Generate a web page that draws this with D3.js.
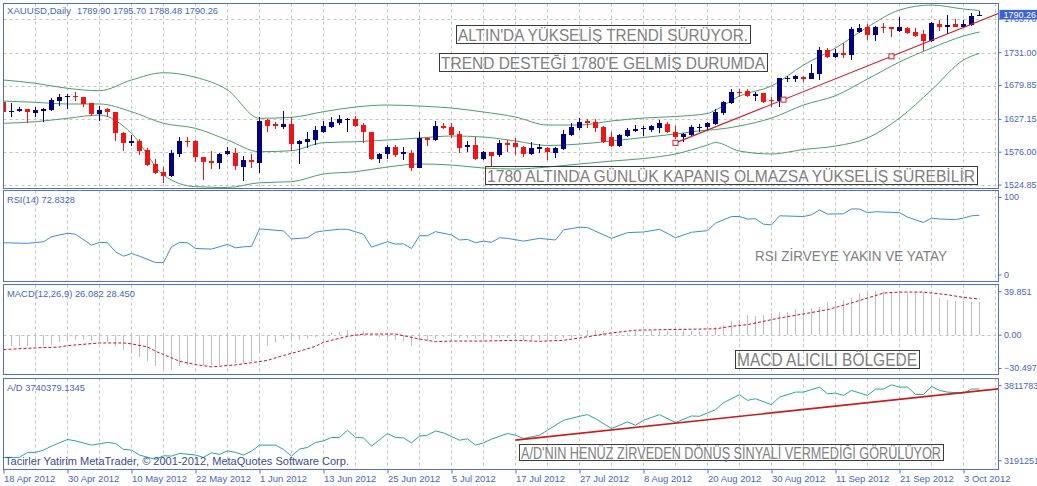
<!DOCTYPE html>
<html><head><meta charset="utf-8">
<script src="https://cdn.jsdelivr.net/npm/d3@7"></script>
<style>body{margin:0;background:#fff;}svg{display:block;font-family:"Liberation Sans",Arial,sans-serif;}</style>
</head><body>
<svg id="chart" width="1037" height="486"></svg>
<script>
// ---------------- DATA ----------------
const dateLabels=["18 Apr 2012","30 Apr 2012","10 May 2012","22 May 2012","1 Jun 2012","13 Jun 2012","25 Jun 2012","5 Jul 2012","17 Jul 2012","27 Jul 2012","8 Aug 2012","20 Aug 2012","30 Aug 2012","11 Sep 2012","21 Sep 2012","3 Oct 2012"];
const priceTicks=[1524.85,1576.00,1627.15,1679.85,1731.00,1783.70];
const lastPrice=1790.26;
const opens=[1654.6,1640.3,1639.7,1642.8,1637.5,1640.6,1641.7,1656.2,1662.0,1664.0,1661.5,1652.1,1635.5,1642.8,1638.1,1606.3,1589.8,1593.4,1579.4,1558.0,1545.1,1539.3,1573.2,1593.4,1593.9,1568.0,1562.7,1558.7,1573.2,1575.2,1553.4,1563.8,1559.6,1626.1,1619.4,1615.7,1619.9,1588.3,1592.3,1595.0,1607.9,1615.7,1621.9,1626.1,1627.7,1618.3,1606.9,1565.4,1573.2,1583.6,1573.2,1575.2,1551.8,1597.6,1595.0,1617.2,1615.2,1604.3,1584.5,1586.7,1565.4,1576.3,1571.6,1590.8,1589.8,1584.5,1573.2,1580.5,1582.0,1575.2,1580.5,1602.8,1613.2,1624.6,1622.5,1614.8,1599.2,1585.6,1601.2,1609.5,1611.6,1610.5,1613.2,1619.9,1607.9,1599.2,1602.8,1613.2,1614.8,1619.4,1636.6,1653.1,1670.2,1671.8,1663.0,1667.7,1657.3,1655.7,1690.0,1689.5,1693.6,1690.0,1697.8,1735.2,1723.8,1731.0,1727.4,1763.7,1770.6,1758.6,1771.5,1770.6,1765.3,1769.0,1762.8,1759.7,1749.7,1775.7,1770.6,1775.2,1771.5,1774.1,1789.90];
const highs=[1657.3,1653.1,1646.9,1643.3,1646.9,1644.8,1659.9,1666.6,1666.2,1670.2,1662.4,1653.1,1647.9,1644.4,1639.1,1607.9,1602.8,1596.1,1582.0,1564.9,1552.4,1579.4,1599.2,1599.2,1595.0,1569.0,1578.3,1574.2,1584.5,1582.0,1570.0,1573.2,1630.3,1627.2,1623.5,1640.2,1630.3,1595.0,1606.9,1616.8,1625.0,1630.3,1633.9,1628.8,1632.4,1621.9,1607.9,1574.2,1587.2,1587.2,1584.5,1579.4,1606.9,1599.2,1625.0,1621.0,1621.9,1609.5,1593.4,1600.1,1578.3,1576.8,1595.0,1595.0,1597.6,1585.6,1592.3,1588.7,1583.6,1583.6,1610.5,1621.9,1628.8,1627.2,1627.2,1616.8,1607.9,1604.3,1613.2,1618.3,1616.8,1618.3,1626.1,1623.5,1616.8,1605.4,1618.3,1619.9,1623.5,1642.8,1656.2,1674.0,1674.0,1674.0,1669.4,1668.7,1662.4,1692.0,1695.2,1696.2,1694.7,1713.4,1740.3,1737.8,1736.3,1746.6,1771.5,1775.7,1775.7,1772.6,1776.8,1771.5,1787.1,1771.5,1769.0,1766.4,1779.3,1781.9,1789.7,1783.0,1781.9,1792.4,1795.70];
const lows=[1637.0,1630.3,1638.1,1621.9,1630.3,1623.5,1640.6,1647.9,1642.8,1656.2,1646.9,1632.8,1625.0,1631.3,1593.9,1578.3,1585.6,1571.6,1554.5,1542.0,1527.5,1537.8,1568.0,1584.5,1561.2,1532.6,1549.3,1549.3,1571.6,1548.2,1531.5,1550.9,1544.0,1607.9,1611.6,1611.6,1578.3,1557.6,1582.0,1587.2,1605.4,1613.2,1618.3,1607.9,1615.7,1589.8,1563.8,1558.7,1565.4,1568.0,1563.8,1547.1,1550.9,1585.6,1593.9,1611.6,1597.6,1575.2,1575.8,1563.8,1563.8,1554.5,1569.0,1576.8,1571.6,1569.0,1571.6,1574.2,1563.8,1566.5,1579.4,1601.2,1610.5,1613.2,1607.9,1590.8,1583.6,1584.5,1600.1,1607.9,1601.2,1607.9,1606.3,1605.4,1596.1,1592.3,1601.2,1607.9,1609.5,1618.3,1633.9,1651.1,1662.4,1661.5,1656.2,1652.1,1646.9,1645.9,1685.8,1685.8,1685.8,1689.5,1688.4,1722.3,1722.3,1722.3,1719.6,1762.2,1750.8,1749.7,1761.2,1755.0,1763.7,1760.1,1755.9,1734.1,1748.1,1765.3,1760.1,1770.6,1770.6,1772.6,1788.48];
const closes=[1639.1,1640.9,1643.7,1638.1,1641.7,1643.7,1657.3,1661.5,1664.0,1662.0,1651.1,1635.5,1641.7,1638.1,1605.4,1589.8,1593.9,1578.3,1556.0,1544.0,1539.3,1575.2,1593.4,1591.8,1568.0,1561.2,1558.7,1573.2,1577.8,1554.5,1563.8,1560.2,1625.0,1616.8,1616.8,1619.9,1588.3,1593.9,1596.5,1610.5,1616.8,1623.5,1627.7,1627.7,1617.2,1606.9,1565.4,1573.2,1583.6,1571.6,1575.8,1551.8,1598.6,1595.0,1616.8,1614.1,1602.8,1583.0,1586.7,1565.4,1576.3,1570.0,1590.8,1587.2,1583.6,1573.2,1582.0,1584.5,1576.8,1582.0,1604.3,1614.8,1623.5,1621.0,1613.2,1592.3,1585.6,1602.8,1610.5,1612.6,1613.2,1617.2,1621.0,1607.9,1599.2,1603.8,1615.7,1615.7,1621.0,1638.1,1654.6,1670.2,1667.7,1663.5,1667.4,1654.6,1655.7,1691.1,1692.0,1694.7,1689.5,1699.8,1735.2,1723.8,1730.1,1727.4,1767.4,1769.0,1758.6,1770.6,1769.0,1767.4,1770.6,1762.2,1757.0,1749.7,1776.8,1770.6,1774.1,1771.5,1775.7,1788.6,1790.26];
// Bollinger bands (read at these bar positions)
const bbIdx=[0,4,8,12,16,20,24,28,32,36,40,44,48,52,56,60,64,68,72,76,80,84,88,89,92,96,100,104,108,112,116,120,122];
const bbUpper=[1688.5,1683.3,1675.5,1671.8,1688.5,1699.8,1692.7,1672.9,1628.8,1630.3,1639.1,1646.4,1649.5,1647.9,1644.8,1638.6,1630.8,1618.3,1618.3,1624.6,1629.2,1631.6,1636.3,1641.7,1663.5,1679.1,1711.8,1738.3,1771.0,1797.5,1805.3,1799.1,1796.7];
const bbMid=[1655.7,1653.7,1651.1,1651.1,1639.1,1621.0,1613.2,1595.0,1576.7,1578.3,1590.8,1592.3,1595.0,1598.1,1601.2,1599.6,1593.4,1586.4,1588.7,1593.4,1598.9,1604.3,1610.5,1611.3,1616.8,1629.2,1649.5,1664.0,1690.0,1716.5,1738.3,1757.0,1763.3];
const bbLow=[1621.0,1623.5,1628.8,1633.9,1605.4,1540.4,1522.2,1521.0,1528.4,1530.0,1542.0,1545.6,1552.9,1557.6,1556.0,1551.3,1549.8,1552.9,1557.6,1562.2,1566.1,1573.2,1587.2,1591.1,1577.8,1573.2,1580.2,1585.6,1598.1,1629.2,1672.9,1719.6,1730.1];
// trend line anchors [bar, price]
const trendMain=[[84,1590.5],[111,1725.3]];
// RSI(14)
const rsiIdx=[0,3,5,6,8,9,11,12,13,14,15,16,17,19,20,21,22,23,24,26,28,29,30,31,32,35,36,38,39,40,42,43,45,46,48,49,50,51,52,53,54,56,57,58,59,60,61,62,63,65,67,69,70,72,73,76,78,80,82,84,86,88,89,91,92,93,94,95,96,97,100,101,102,103,105,106,107,108,109,112,113,115,116,117,119,120,121,122];
const rsiVal=[42.6,41.9,43.7,49.2,53.0,51.9,40.0,43.0,42.6,32.6,27.8,30.8,27.8,20.8,20.8,38.1,43.0,42.6,36.3,35.6,40.8,37.0,38.1,38.6,57.8,55.6,46.7,48.1,54.1,55.6,57.4,57.4,51.9,37.8,43.7,41.1,41.4,36.3,50.3,50.3,54.8,51.1,45.6,46.3,42.6,44.4,43.0,48.1,47.4,44.4,47.4,45.6,56.7,59.7,59.2,47.4,53.7,54.4,57.4,48.1,54.1,55.9,64.1,71.4,71.4,68.6,68.9,63.0,62.2,72.2,71.4,73.3,78.6,74.1,74.4,79.7,79.7,75.6,76.7,75.6,70.8,64.8,69.7,68.6,68.1,69.7,72.2,72.83];
// MACD(12,26,9)
const macdMain=[-8.7,-8.7,-8.7,-8.7,-8.7,-8.2,-7.4,-5.6,-4.8,-4.0,-4.0,-4.8,-4.8,-5.6,-8.2,-11.3,-13.9,-17.1,-20.5,-24.4,-27.0,-27.0,-24.4,-23.1,-23.1,-23.1,-23.1,-23.1,-22.5,-22.2,-21.6,-20.5,-12.6,-8.7,-6.1,-3.0,-4.0,-3.5,-3.0,-1.4,-0.1,1.7,2.5,3.8,1.7,3.0,-0.9,-1.4,-2.2,-3.5,-4.8,-8.7,-3.5,-4.0,-3.0,-1.4,-1.4,-2.2,-2.2,-3.0,-3.0,-3.0,-2.2,-2.2,-2.2,-3.5,-3.5,-3.5,-3.3,-2.6,-2.1,-1.2,0.5,4.3,4.3,3.6,0.3,1.0,1.8,3.1,3.1,3.6,3.6,3.1,3.1,3.1,3.6,3.1,3.6,6.1,8.2,11.3,12.1,15.5,14.7,15.5,17.3,18.0,18.6,20.6,21.6,21.6,22.4,25.8,26.8,27.6,29.5,32.8,33.6,34.7,34.7,33.6,34.1,32.8,33.6,33.6,31.3,29.0,27.6,27.1,26.5,26.0,26.082];
const sigIdx=[0,4,7,8,12,15,16,18,19,20,21,22,24,26,29,31,33,35,37,39,40,41,43,45,49,50,52,54,56,60,64,67,70,72,76,79,83,89,91,93,97,100,103,105,108,110,112,115,118,120,122];
const sigVal=[-11.3,-10.0,-9.3,-8.2,-6.1,-6.1,-6.8,-9.3,-12.6,-15.2,-17.8,-20.5,-23.1,-24.9,-23.3,-21.6,-19.8,-15.9,-12.6,-8.7,-5.6,-4.0,-0.9,0.9,0.9,-0.4,-3.0,-5.1,-4.6,-4.6,-4.0,-4.8,-4.0,-2.2,1.8,3.9,4.4,5.0,7.0,8.3,13.5,16.7,20.1,23.5,29.2,33.1,33.9,33.9,31.8,29.7,28.45];
// Accumulation/Distribution
const adIdx=[0,2,3,4,5,6,8,9,11,13,14,15,16,17,19,20,21,22,24,25,26,27,28,29,30,31,32,34,35,36,37,38,39,40,41,42,43,44,45,46,48,49,50,51,52,53,54,55,57,58,59,60,61,63,64,65,67,68,70,72,73,74,76,78,79,80,82,84,86,87,89,90,92,93,94,96,97,99,100,102,103,104,105,106,108,109,110,111,112,113,114,115,116,117,118,120,121,122];
const adVal=[3271033,3271033,3305128,3305128,3320812,3348088,3393775,3384229,3354907,3373318,3366499,3325585,3320812,3286717,3257395,3281944,3279898,3298309,3286717,3271033,3302401,3291490,3316039,3305128,3286717,3313993,3354907,3354907,3325585,3279898,3327631,3339223,3373318,3384229,3407413,3407413,3457192,3407413,3404686,3348088,3434689,3407413,3404686,3370591,3416278,3423097,3452419,3438781,3389002,3397867,3354907,3370591,3395821,3434689,3423097,3400370,3423097,3457192,3525382,3552658,3564022,3536746,3468544,3514009,3491287,3525382,3564022,3509464,3554932,3552658,3598114,3645847,3700399,3661762,3673126,3632209,3684490,3718585,3718585,3752680,3707218,3711763,3695857,3729952,3695857,3739042,3739042,3768589,3752680,3752680,3702676,3702676,3757228,3729952,3718585,3711763,3739042,3740379];
const trendAD=[[64,3389000],[122,3727000]];
const rsiTicks=[0,100], macdTicks=[-30.497,0,39.851], adTicks=[3191251,3811783];

// ---------------- STYLE ----------------
const FRAME="#5172c6",TXT="#4765c0",GRID="#c3c3c3",BULL="#000080",BEAR="#f01414",BB="#4c9d6a";
const FONT='"Liberation Sans", Arial, sans-serif';
const L=3.5,R=998.5;
const P={main:[3.5,188.5],rsi:[190.5,281.5],macd:[284.5,374.5],ad:[378.5,469.5]};

const svg=d3.select("#chart");
const x=d3.scaleLinear().domain([0,122]).range([3.5,979.5]);
const yP=d3.scaleLinear().domain([1520.2,1806.9]).range([188,4]);
const yR=d3.scaleLinear().domain([0,100]).range([281.5,190.5]);
const yM=d3.scaleLinear().domain([-30.497,39.851]).range([374,284.5]);
const yA=d3.scaleLinear().domain([3191251,3811783]).range([469,378.5]);

const defs=svg.append("defs");
Object.entries(P).forEach(([k,[t,b]])=>{
  defs.append("clipPath").attr("id","clip-"+k).append("rect")
    .attr("x",L+0.5).attr("y",t+0.5).attr("width",R-L-1).attr("height",b-t-1);
});
const panel=k=>svg.append("g").attr("clip-path",`url(#clip-${k})`);

// vertical grid
Object.entries(P).forEach(([k,[t,b]])=>{
  panel(k).selectAll("line").data(d3.range(4,125,4)).join("line")
    .attr("x1",d=>x(d)).attr("x2",d=>x(d)).attr("y1",t).attr("y2",b)
    .attr("stroke",GRID).attr("stroke-dasharray","3,3");
});

// ---------- MAIN PANEL ----------
const gm=panel("main");
gm.selectAll("line.h").data(priceTicks).join("line").attr("class","h")
  .attr("x1",L).attr("x2",R).attr("y1",d=>Math.round(yP(d))+0.5).attr("y2",d=>Math.round(yP(d))+0.5)
  .attr("stroke",GRID).attr("stroke-dasharray","3,3");
[bbUpper,bbMid,bbLow].forEach(vals=>{
  gm.append("path").attr("fill","none").attr("stroke",BB).attr("stroke-width",1)
    .attr("d",d3.line().x((d,j)=>x(bbIdx[j])).y(d=>yP(d)).curve(d3.curveMonotoneX)(vals));
});
const idx=d3.range(closes.length);
const cg=gm.append("g").attr("shape-rendering","crispEdges");
const col=i=>closes[i]>=opens[i]?BULL:BEAR;
cg.selectAll("line").data(idx).join("line")
  .attr("x1",i=>x(i)).attr("x2",i=>x(i)).attr("y1",i=>yP(highs[i])).attr("y2",i=>yP(lows[i])).attr("stroke",col);
cg.selectAll("rect").data(idx).join("rect")
  .attr("x",i=>x(i)-2.5).attr("width",5)
  .attr("y",i=>Math.min(yP(opens[i]),yP(closes[i])))
  .attr("height",i=>Math.max(1,Math.abs(yP(opens[i])-yP(closes[i]))))
  .attr("fill",col);
// main trend line (ray)
{
  const [a,b]=trendMain, s=(b[1]-a[1])/(b[0]-a[0]), iEnd=x.invert(R);
  gm.append("line").attr("x1",x(a[0])).attr("y1",yP(a[1])).attr("x2",x(iEnd)).attr("y2",yP(a[1]+s*(iEnd-a[0])))
    .attr("stroke","#cc1f2a").attr("stroke-width",1.1);
  const mids=[a,[(a[0]+b[0])/2,(a[1]+b[1])/2],b];
  gm.selectAll("rect.m").data(mids).join("rect").attr("class","m")
    .attr("x",d=>x(d[0])-2.5).attr("y",d=>yP(d[1])-2.5).attr("width",5).attr("height",5)
    .attr("fill","#fff").attr("stroke","#cc1f2a").attr("stroke-width",1);
}

// ---------- RSI ----------
const gr=panel("rsi");
gr.append("path").attr("fill","none").attr("stroke","#3a8ed8").attr("stroke-width",1)
  .attr("d",d3.line().x(d=>x(d[0])).y(d=>yR(d[1]))(d3.zip(rsiIdx,rsiVal)));

// ---------- MACD ----------
const gc=panel("macd");
gc.append("line").attr("x1",L).attr("x2",R).attr("y1",Math.round(yM(0))+0.5).attr("y2",Math.round(yM(0))+0.5)
  .attr("stroke",GRID).attr("stroke-dasharray","3,3");
gc.append("g").attr("shape-rendering","crispEdges").selectAll("line").data(idx).join("line")
  .attr("x1",i=>x(i)).attr("x2",i=>x(i)).attr("y1",Math.round(yM(0))).attr("y2",i=>yM(macdMain[i]))
  .attr("stroke","#bdbdbd");
gc.append("path").attr("fill","none").attr("stroke","#c8102e").attr("stroke-width",1).attr("stroke-dasharray","3,2")
  .attr("d",d3.line().x(d=>x(d[0])).y(d=>yM(d[1]))(d3.zip(sigIdx,sigVal)));

// ---------- A/D ----------
const ga=panel("ad");
ga.append("path").attr("fill","none").attr("stroke","#2fa39a").attr("stroke-width",1)
  .attr("d",d3.line().x(d=>x(d[0])).y(d=>yA(d[1]))(d3.zip(adIdx,adVal)));
{
  const [a,b]=trendAD, s=(b[1]-a[1])/(b[0]-a[0]), iEnd=x.invert(R);
  ga.append("line").attr("x1",x(a[0])).attr("y1",yA(a[1])).attr("x2",x(iEnd)).attr("y2",yA(a[1]+s*(iEnd-a[0])))
    .attr("stroke","#c81e1e").attr("stroke-width",1.7);
}

// ---------- FRAMES ----------
Object.values(P).forEach(([t,b])=>{
  svg.append("rect").attr("x",L).attr("y",t).attr("width",R-L).attr("height",b-t)
    .attr("fill","none").attr("stroke",FRAME).attr("stroke-width",1);
});

// ---------- AXES ----------
function rightAxis(scale,vals,fmt,nudge){
  const g=svg.append("g").attr("transform",`translate(${R},0)`)
    .call(d3.axisRight(scale).tickValues(vals).tickFormat(fmt).tickSize(3).tickPadding(2.5));
  g.select(".domain").remove();
  g.selectAll(".tick").attr("transform",d=>`translate(0,${scale(d)+(nudge?nudge(d):0)})`);
  g.selectAll(".tick line").attr("stroke",FRAME);
  g.selectAll(".tick text").attr("fill",TXT).style("font-size","9px").style("font-family",FONT);
  return g;
}
rightAxis(yP,priceTicks,d3.format(".2f"));
rightAxis(yR,rsiTicks,d3.format("d"),d=>d===100?7:-6.5);
rightAxis(yM,macdTicks,d=>d===0?"0.00":d3.format(".3f")(d),d=>d>0?7.2:(d<0?-5.5:0));
rightAxis(yA,adTicks,d3.format("d"),d=>d>3500000?7.2:-8.3);
// current price label
{
  const yy=yP(lastPrice);
  svg.append("rect").attr("x",R+1).attr("y",yy-4.8).attr("width",38).attr("height",9.6).attr("fill","#3d63cf");
  svg.append("text").attr("x",R+5).attr("y",yy+3.3).attr("fill","#fff").style("font-size","9px").text(d3.format(".2f")(lastPrice));
}
// date axis
{
  const g=svg.append("g").attr("transform",`translate(0,${P.ad[1]})`)
    .call(d3.axisBottom(x).tickValues(d3.range(0,121,8)).tickFormat((d,i)=>dateLabels[i]).tickSize(4).tickPadding(2));
  g.select(".domain").remove();
  g.selectAll(".tick line").attr("stroke",FRAME);
  g.selectAll(".tick text").attr("fill",TXT).attr("text-anchor","start").style("font-size","9.5px").style("font-family",FONT);
}

// ---------- LABELS ----------
function label(t,x0,x1,base,size,fill){
  svg.append("text").attr("x",x0).attr("y",base).attr("textLength",x1-x0).attr("lengthAdjust","spacingAndGlyphs")
    .attr("fill",fill).style("font-size",size+"px").text(t);
}
label("XAUUSD,Daily",7,71,14,9.5,TXT);
label("1789.90 1795.70 1788.48 1790.26",77,218,14,9.5,TXT);
label("RSI(14) 72.8328",7,75,203,9.5,TXT);
label("MACD(12,26,9) 26.082 28.450",7,135,297,9.5,TXT);
label("A/D 3740379.1345",7,85,391,9.5,TXT);
label("Tacirler Yatirim MetaTrader, \u00a9 2001-2012, MetaQuotes Software Corp.",5,349,465,11,"#3d4a90");

function note(t,box,x0,x1,base,size){
  if(box) svg.append("rect").attr("x",box[0]).attr("y",box[1]).attr("width",box[2]-box[0]).attr("height",box[3]-box[1])
    .attr("fill","none").attr("stroke","#3a3a3a").attr("stroke-width",1);
  label(t,x0,x1,base,size,"#808080");
}
note("ALTIN'DA YÜKSELİŞ TRENDİ SÜRÜYOR.",[456.5,25.5,750.5,43.5],458,748,41,17);
note("TREND DESTEĞİ 1780'E GELMİŞ DURUMDA",[439.5,53.5,767.5,71.5],441,765,69,17);
note("1780 ALTINDA GÜNLÜK KAPANIŞ OLMAZSA YÜKSELİŞ SÜREBİLİR",[485.5,166.5,977.5,184.5],487,975,182,17);
note("RSI ZİRVEYE YAKIN VE YATAY",null,755,947,261,15.5);
note("MACD ALICILI BÖLGEDE",[735.5,350.5,919.5,368.5],737,917,366,17.5);
note("A/D'NIN HENÜZ ZİRVEDEN DÖNÜŞ SİNYALİ VERMEDİĞİ GÖRÜLÜYOR",[519.5,444.5,943.5,460.5],521,941,458.5,16);
</script>
</body></html>
